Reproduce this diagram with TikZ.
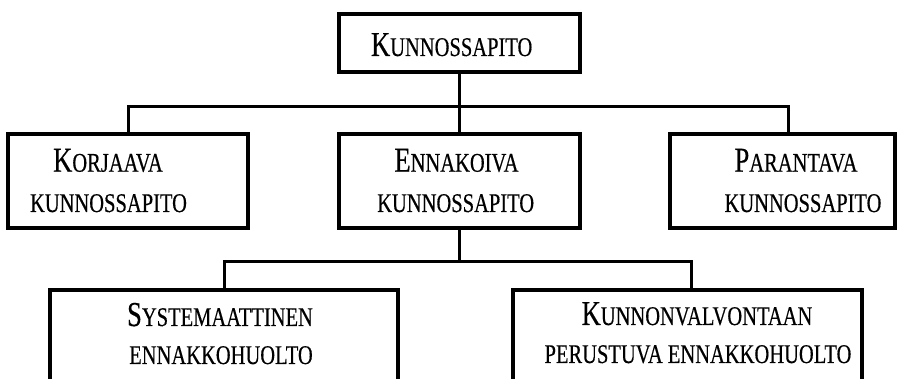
\documentclass[tikz,border=0pt]{standalone}
\usepackage{fontspec}
\setmainfont[FakeStretch=0.76,FakeBold=0.4]{Liberation Serif}
\newcommand{\bigL}[1]{{\fontsize{35}{35}\selectfont #1}}
\newcommand{\smallL}[1]{{\fontsize{27}{27}\selectfont #1}}
\tikzset{
  boxnode/.style={draw=black, line width=3.2pt, rectangle, inner sep=0pt},
  lbl/.style={anchor=base, inner sep=0pt},
  conn/.style={draw=black, line width=3pt}
}
\begin{document}
\begin{tikzpicture}[x=1pt, y=-1pt]
\clip (0,0) rectangle (898,379);
\fill[white] (0,0) rectangle (898,379);
% boxes
\node[boxnode, minimum width=241pt, minimum height=58pt] (top) at (459.5,43) {};
\node[boxnode, minimum width=240pt, minimum height=94pt] (korj) at (128,181) {};
\node[boxnode, minimum width=241pt, minimum height=94pt] (enn) at (459.5,181) {};
\node[boxnode, minimum width=225pt, minimum height=94pt] (par) at (782.5,181) {};
\node[boxnode, minimum width=348pt, minimum height=140pt] (sys) at (224,360) {};
\node[boxnode, minimum width=349pt, minimum height=140pt] (kunn) at (687.5,360) {};
% texts
\node[lbl] (ttop) at (451.7,56) {\bigL{K}\smallL{UNNOSSAPITO}};
\node[lbl] (tkorj1) at (108,171.7) {\bigL{K}\smallL{ORJAAVA}};
\node[lbl] (tkorj2) at (108.5,212) {\smallL{KUNNOSSAPITO}};
\node[lbl] (tenn1) at (456.5,171.7) {\bigL{E}\smallL{NNAKOIVA}};
\node[lbl] (tenn2) at (455.7,212) {\smallL{KUNNOSSAPITO}};
\node[lbl] (tpar1) at (796,171.7) {\bigL{P}\smallL{ARANTAVA}};
\node[lbl] (tpar2) at (803,212) {\smallL{KUNNOSSAPITO}};
\node[lbl] (tsys1) at (220,326) {\bigL{S}\smallL{YSTEMAATTINEN}};
\node[lbl] (tsys2) at (221,364) {\smallL{ENNAKKOHUOLTO}};
\node[lbl] (tkunn1) at (697,325) {\bigL{K}\smallL{UNNONVALVONTAAN}};
\node[lbl] (tkunn2) at (698,363) {\smallL{PERUSTUVA ENNAKKOHUOLTO}};
% connectors
\coordinate (b1) at (459.5,107);
\coordinate (b2) at (459.5,262);
\draw[conn] (top.south) -- (enn.north);
\draw[conn] (korj.north) |- (b1) -| ([xshift=5.5pt]par.north);
\draw[conn] (enn.south) -- (b2);
\draw[conn] (sys.north) |- (b2) -| ([xshift=3.5pt]kunn.north);
\end{tikzpicture}
\end{document}
